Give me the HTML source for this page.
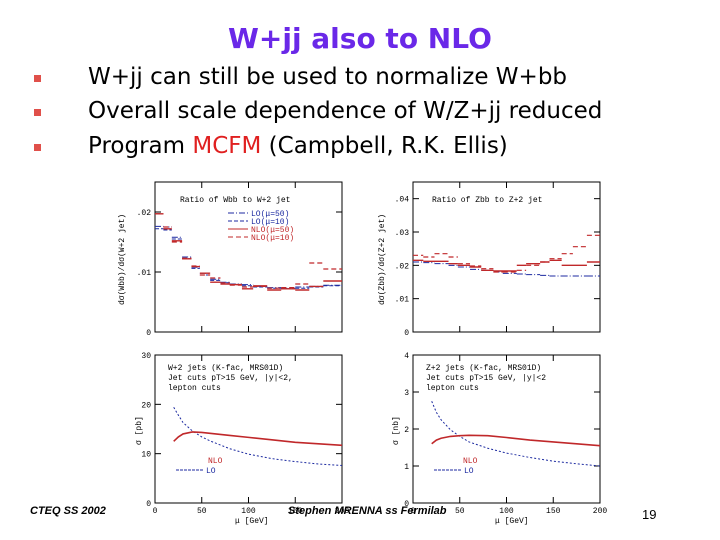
<!DOCTYPE html>
<html><head><meta charset="utf-8"><style>
body{margin:0;width:720px;height:540px;background:#fff;overflow:hidden;position:relative;font-family:"Liberation Sans","DejaVu Sans",sans-serif}
.t{position:absolute;white-space:nowrap}
.b{position:absolute;left:34px;width:7px;height:7px;background:#e0504a}
.ln{position:absolute;left:88px;font-size:23px;color:#000;font-family:"DejaVu Sans","Liberation Sans",sans-serif}
</style></head><body>
<div class="t" style="left:228px;top:22px;font-size:28px;font-weight:bold;color:#6a28e8;font-family:'DejaVu Sans',sans-serif">W+jj also to NLO</div>
<div class="b" style="top:75px"></div>
<div class="t ln" style="top:64px">W+jj can still be used to normalize W+bb</div>
<div class="b" style="top:109px"></div>
<div class="t ln" style="top:98px">Overall scale dependence of W/Z+jj reduced</div>
<div class="b" style="top:144px"></div>
<div class="t ln" style="top:133px">Program <span style="color:#e02020">MCFM</span> (Campbell, R.K. Ellis)</div>
<div class="t" style="left:30px;top:505px;font-size:11px;font-style:italic;font-weight:bold">CTEQ SS 2002</div>
<div class="t" style="left:288px;top:505px;font-size:11px;font-style:italic;font-weight:bold">Stephen MRENNA ss Fermilab</div>
<div class="t" style="left:642px;top:507px;font-size:13px">19</div>
<svg id="c" width="720" height="540" style="position:absolute;left:0;top:0"></svg>
<script>
// top-left: ratio Wbb / W+2jet
const tlEdges=[0,9,18,29,39,48,59,70,80,93,105,120,135,150,165,180,200];
const tlLO50=[.0176,.0175,.0158,.0125,.0108,.0098,.0088,.0083,.0080,.0079,.0076,.0074,.0073,.0075,.0076,.0078];
const tlLO10=[.0172,.0170,.0155,.0122,.0106,.0095,.0086,.0082,.0079,.0077,.0075,.0073,.0072,.0073,.0075,.0077];
const tlNLO50=[.0197,.0172,.0152,.0122,.0109,.0098,.0083,.0080,.0079,.0072,.0077,.0070,.0072,.0070,.0076,.0085];
const tlNLO10=[.0197,.0175,.0150,.0123,.0110,.0095,.0090,.0082,.0078,.0075,.0076,.0073,.0074,.0080,.0115,.0105];
// top-right: ratio Zbb / Z+2jet
const trEdges=[0,11,23,38,48,61,73,86,96,111,121,136,146,159,171,186,200];
const trLO=[.0210,.0208,.0205,.0200,.0195,.0188,.0185,.0180,.0176,.0174,.0172,.0170,.0168,.0168,.0168,.0168];
const trNLO50=[.0215,.0212,.0212,.0205,.0200,.0195,.0185,.0183,.0183,.0200,.0205,.0210,.0215,.0200,.0200,.0210];
const trNLO10=[.0230,.0225,.0235,.0225,.0205,.0198,.0190,.0180,.0180,.0185,.0200,.0210,.0220,.0235,.0256,.0290];
// bottom: cross sections vs mu
const mu=[20,25,30,40,50,60,80,100,125,150,175,200];
const wLO=[19.4,17.8,16.3,14.6,13.4,12.5,11.0,9.9,9.0,8.4,7.9,7.6];
const wNLO=[12.5,13.4,14.0,14.4,14.3,14.1,13.7,13.3,12.8,12.3,12.0,11.7];
const zLO=[2.75,2.45,2.25,1.98,1.80,1.65,1.48,1.35,1.23,1.13,1.06,1.00];
const zNLO=[1.60,1.70,1.75,1.80,1.82,1.83,1.82,1.77,1.70,1.65,1.60,1.55];
const tlTicks=[["0",0],[".01",.01],[".02",.02]];
const trTicks=[["0",0],[".01",.01],[".02",.02],[".03",.03],[".04",.04]];
const blTicks=[0,10,20,30];
const brTicks=[0,1,2,3,4];
const xTicks=[0,50,100,150,200];

const svg=document.getElementById('c');const NS='http://www.w3.org/2000/svg';
function el(t,a,p){const e=document.createElementNS(NS,t);for(const k in a)e.setAttribute(k,a[k]);(p||svg).appendChild(e);return e;}
function panel(name,x0,x1,yTop,yBot,ymax){
  const g=el('g',{});
  el('rect',{x:x0,y:yTop,width:x1-x0,height:yBot-yTop,fill:'none',stroke:'#000','stroke-width':1},g);
  return {g,sx:v=>x0+(x1-x0)*v/200,sy:v=>yBot-(yBot-yTop)*v/ymax,x0,x1,yTop,yBot};
}
function txt(g,x,y,s,o){const t=el('text',Object.assign({x,y,'font-size':8,'font-family':'Liberation Mono,monospace',fill:'#000'},o||{}),g);t.textContent=s;return t;}
function hist(p,edges,vals,col,dash,w,name){
  let d='';for(let i=0;i<vals.length;i++){d+=`M${p.sx(edges[i])},${p.sy(vals[i])}H${p.sx(edges[i+1])}`;}
  const e=el('path',{d,stroke:col,fill:'none','stroke-width':w,'stroke-dasharray':dash},p.g);
  
}
function curve(p,xs,ys,col,dash,w,name){
  const d=xs.map((x,i)=>(i?'L':'M')+p.sx(x)+','+p.sy(ys[i])).join('');
  const e=el('path',{d,stroke:col,fill:'none','stroke-width':w,'stroke-dasharray':dash},p.g);
  
}
function yt(p,ticks,fmt){ticks.forEach(t=>{const v=Array.isArray(t)?t[1]:t,l=Array.isArray(t)?t[0]:String(t);const y=p.sy(v);
  el('line',{x1:p.x0,x2:p.x0+6,y1:y,y2:y,stroke:'#000'},p.g);el('line',{x1:p.x1,x2:p.x1-6,y1:y,y2:y,stroke:'#000'},p.g);
  txt(p.g,p.x0-4,y+3,l,{'text-anchor':'end'});});}
function xt(p,labels){xTicks.forEach(v=>{const x=p.sx(v);el('line',{x1:x,x2:x,y1:p.yBot,y2:p.yBot-6,stroke:'#000'},p.g);el('line',{x1:x,x2:x,y1:p.yTop,y2:p.yTop+6,stroke:'#000'},p.g);
  if(labels)txt(p.g,x,p.yBot+10,String(v),{'text-anchor':'middle'});});}
const RED='#c0282a',BLUE='#1c2aa0';
// top-left
let p=panel('wbb-ratio-panel',155,342,182,332,.025);yt(p,tlTicks);xt(p,false);
txt(p.g,180,202,'Ratio of Wbb to W+2 jet');
hist(p,tlEdges,tlLO50,BLUE,'6,2,1,2',1,'lo-mu50-hist');hist(p,tlEdges,tlLO10,BLUE,'4,2',1,'lo-mu10-hist');
hist(p,tlEdges,tlNLO50,RED,'',1.4,'nlo-mu50-hist');hist(p,tlEdges,tlNLO10,RED,'5,3',1.2,'nlo-mu10-hist');
[['LO(\u03bc=50)',BLUE,'6,2,1,2'],['LO(\u03bc=10)',BLUE,'4,2'],['NLO(\u03bc=50)',RED,''],['NLO(\u03bc=10)',RED,'5,3']].forEach((l,i)=>{
  const y=213+i*8;el('line',{x1:228,x2:248,y1:y,y2:y,stroke:l[1],'stroke-dasharray':l[2]},p.g);txt(p.g,251,y+3,l[0],{fill:l[1]});});
el('text',{x:0,y:0,'font-size':8,'font-family':'Liberation Mono,monospace',transform:'translate(124,305) rotate(-90)'},p.g).textContent='d\u03c3(Wbb)/d\u03c3(W+2 jet)';
// top-right
p=panel('zbb-ratio-panel',413,600,182,332,.045);yt(p,trTicks);xt(p,false);
txt(p.g,432,202,'Ratio of Zbb to Z+2 jet');
hist(p,trEdges,trLO,BLUE,'6,2,1,2',1,'z-lo-hist');hist(p,trEdges,trNLO50,RED,'',1.4,'z-nlo-mu50-hist');hist(p,trEdges,trNLO10,RED,'5,3',1.2,'z-nlo-mu10-hist');
el('text',{x:0,y:0,'font-size':8,'font-family':'Liberation Mono,monospace',transform:'translate(384,305) rotate(-90)'},p.g).textContent='d\u03c3(Zbb)/d\u03c3(Z+2 jet)';
// bottom-left
p=panel('w-xsec-panel',155,342,355,503,30);yt(p,blTicks);xt(p,true);
txt(p.g,168,370,'W+2 jets (K-fac, MRS01D)');txt(p.g,168,380,'Jet cuts pT>15 GeV, |y|<2,');txt(p.g,168,390,'lepton cuts');
curve(p,mu,wLO,BLUE,'2,2',1,'w-lo-curve');curve(p,mu,wNLO,RED,'',1.6,'w-nlo-curve');
txt(p.g,208,463,'NLO',{fill:RED});el('line',{x1:176,x2:203,y1:470,y2:470,stroke:BLUE,'stroke-dasharray':'3,1'},p.g);txt(p.g,206,473,'LO',{fill:BLUE});
el('text',{x:0,y:0,'font-size':8,'font-family':'Liberation Mono,monospace',transform:'translate(141,445) rotate(-90)'},p.g).textContent='\u03c3 [pb]';
txt(p.g,235,523,'\u03bc [GeV]');
// bottom-right
p=panel('z-xsec-panel',413,600,355,503,4);yt(p,brTicks);xt(p,true);
txt(p.g,426,370,'Z+2 jets (K-fac, MRS01D)');txt(p.g,426,380,'Jet cuts pT>15 GeV, |y|<2');txt(p.g,426,390,'lepton cuts');
curve(p,mu,zLO,BLUE,'2,2',1,'z-lo-curve');curve(p,mu,zNLO,RED,'',1.6,'z-nlo-curve');
txt(p.g,463,463,'NLO',{fill:RED});el('line',{x1:434,x2:461,y1:470,y2:470,stroke:BLUE,'stroke-dasharray':'3,1'},p.g);txt(p.g,464,473,'LO',{fill:BLUE});
el('text',{x:0,y:0,'font-size':8,'font-family':'Liberation Mono,monospace',transform:'translate(398,445) rotate(-90)'},p.g).textContent='\u03c3 [nb]';
txt(p.g,495,523,'\u03bc [GeV]');
</script>
</body></html>
